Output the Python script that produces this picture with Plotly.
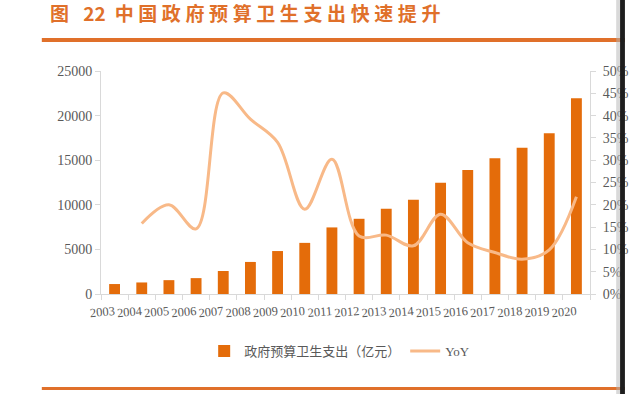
import plotly.graph_objects as go

years = [str(y) for y in range(2003, 2021)]
spend = [1116.94, 1293.58, 1552.53, 1778.86, 2581.58, 3593.94, 4816.26, 5732.49,
         7464.18, 8431.98, 9545.81, 10579.23, 12475.28, 13910.31, 15205.87,
         16399.13, 18016.95, 21941.90]
yoy_years = years[1:]
yoy = [0.158, 0.200, 0.146, 0.451, 0.392, 0.340, 0.190, 0.302, 0.130, 0.132,
       0.108, 0.179, 0.115, 0.093, 0.078, 0.099, 0.218]

W, H = 641, 394
L, R, T, B = 101, 605, 71, 294

def px(x):
    return (x - L) / (R - L)

def py(y):
    return (B - y) / (B - T)

fig = go.Figure()
fig.add_trace(go.Bar(x=years, y=spend, name="政府预算卫生支出（亿元）",
                     marker=dict(color="#E46C0A", line=dict(width=0))))
fig.add_trace(go.Scatter(x=yoy_years, y=yoy, name="YoY", yaxis="y2", mode="lines",
                         line=dict(color="#F8B988", width=3, shape="spline", smoothing=1.0)))

axis_font = dict(family="Liberation Serif, Times New Roman, serif", size=14, color="#595959")
fig.update_layout(
    width=W, height=H,
    margin=dict(l=L, r=W - R, t=T, b=H - B),
    paper_bgcolor="white", plot_bgcolor="white",
    bargap=0.6,
    showlegend=True,
    legend=dict(orientation="h", x=px(347), xanchor="center", y=py(351), yanchor="middle",
                font=dict(family="Liberation Serif, Noto Sans CJK SC", size=13, color="#595959"),
                bgcolor="rgba(0,0,0,0)"),
    xaxis=dict(type="category", showline=True, linecolor="#D9D9D9", linewidth=1,
               ticks="outside", tickson="boundaries", ticklen=5, tickcolor="#D9D9D9",
               tickangle=-5, showgrid=False, zeroline=False, ticklabelstandoff=5,
               tickfont=dict(family="Liberation Serif, Times New Roman, serif", size=12.5, color="#595959")),
    yaxis=dict(range=[0, 25000], dtick=5000, showline=True, linecolor="#D9D9D9",
               ticks="outside", ticklen=5, tickcolor="#D9D9D9", showgrid=False,
               zeroline=False, tickfont=axis_font, tickformat="d"),
    yaxis2=dict(range=[0, 0.5], dtick=0.05, tickformat=".0%", overlaying="y", side="right",
                showline=True, linecolor="#D9D9D9", ticks="outside", ticklen=5,
                tickcolor="#D9D9D9", showgrid=False, zeroline=False, tickfont=axis_font,
                ticklabelstandoff=4),
)

shapes = [
    dict(type="rect", xref="paper", yref="paper", x0=px(40), x1=px(641), y0=py(42), y1=py(38),
         fillcolor="#E0702A", line=dict(width=0), layer="above"),
    dict(type="rect", xref="paper", yref="paper", x0=px(40), x1=px(641), y0=py(390), y1=py(387),
         fillcolor="#E0702A", line=dict(width=0), layer="above"),
    dict(type="rect", xref="paper", yref="paper", x0=px(632), x1=px(636), y0=py(394), y1=py(0),
         fillcolor="rgba(180,180,180,0.5)", line=dict(width=0), layer="above"),
    dict(type="rect", xref="paper", yref="paper", x0=px(636), x1=px(641), y0=py(394), y1=py(0),
         fillcolor="#1E1E1E", line=dict(width=0), layer="above"),
]
fig.update_layout(shapes=shapes)

title_text = ('<span style="letter-spacing:5px">图\u00a0</span>'
              '<span style="letter-spacing:0px">22</span>'
              '<span style="letter-spacing:4.6px">\u00a0中国政府预算卫生支出快速提升</span>')
fig.add_annotation(xref="paper", yref="paper", x=px(46), y=py(13), xanchor="left", yanchor="middle",
                   showarrow=False, text=title_text,
                   font=dict(family="Noto Sans CJK SC", size=19, color="#E0702A", weight="bold"))

fig.write_html("out.html")
